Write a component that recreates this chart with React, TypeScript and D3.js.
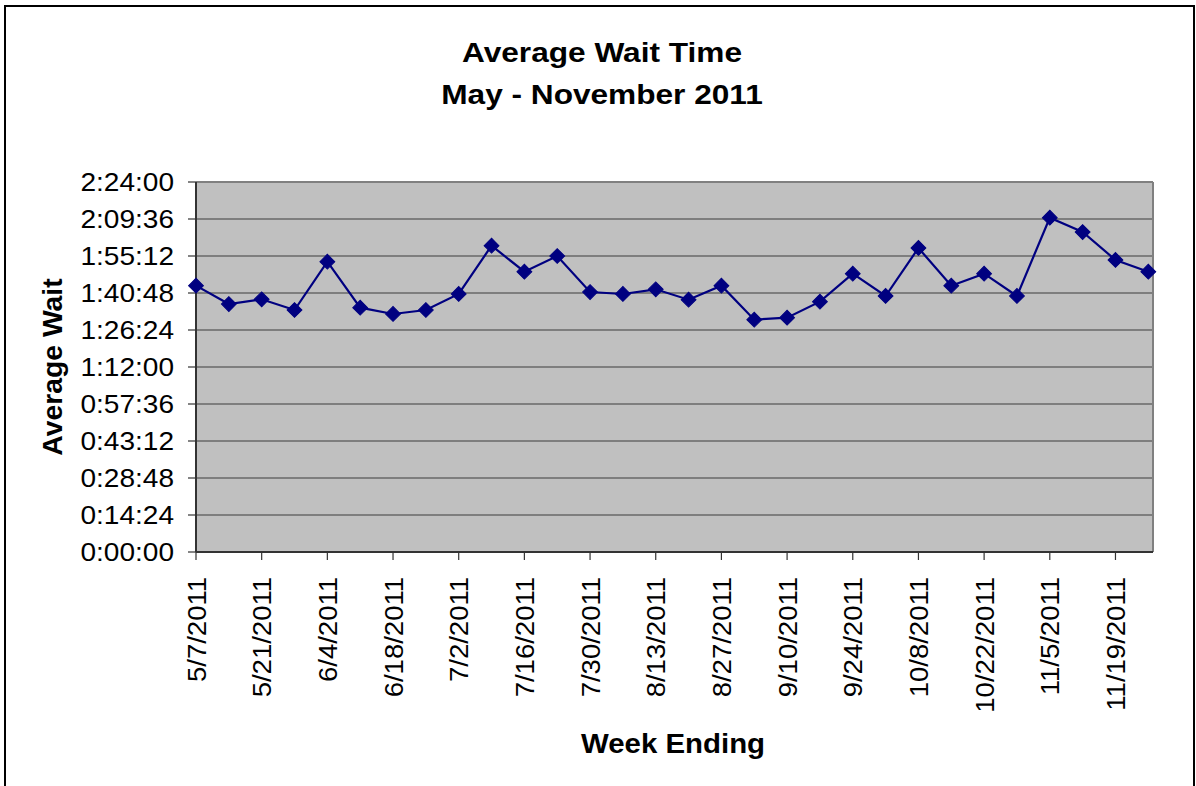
import React from "react";
import * as d3 from "d3";

const weekEnding = [
  "2011-05-07", "2011-05-14", "2011-05-21", "2011-05-28", "2011-06-04", "2011-06-11",
  "2011-06-18", "2011-06-25", "2011-07-02", "2011-07-09", "2011-07-16", "2011-07-23",
  "2011-07-30", "2011-08-06", "2011-08-13", "2011-08-20", "2011-08-27", "2011-09-03",
  "2011-09-10", "2011-09-17", "2011-09-24", "2011-10-01", "2011-10-08", "2011-10-15",
  "2011-10-22", "2011-10-29", "2011-11-05", "2011-11-12", "2011-11-19", "2011-11-26",
];

const averageWait = [
  "1:43:40", "1:36:31", "1:38:21", "1:34:11", "1:52:59", "1:35:05",
  "1:32:38", "1:34:11", "1:40:25", "1:59:13", "1:49:05", "1:55:12",
  "1:41:11", "1:40:25", "1:42:14", "1:38:12", "1:43:39", "1:30:25",
  "1:31:11", "1:37:25", "1:48:19", "1:39:38", "1:58:19", "1:43:39",
  "1:48:19", "1:39:38", "2:10:06", "2:04:32", "1:53:39", "1:49:05",
];

const yTickLabels = [
  "0:00:00", "0:14:24", "0:28:48", "0:43:12", "0:57:36", "1:12:00",
  "1:26:24", "1:40:48", "1:55:12", "2:09:36", "2:24:00",
];

const xTickLabels = [
  "5/7/2011", "5/21/2011", "6/4/2011", "6/18/2011", "7/2/2011", "7/16/2011",
  "7/30/2011", "8/13/2011", "8/27/2011", "9/10/2011", "9/24/2011", "10/8/2011",
  "10/22/2011", "11/5/2011", "11/19/2011",
];

const titleLines = ["Average Wait Time", "May - November 2011"];
const yAxisTitle = "Average Wait";
const xAxisTitle = "Week Ending";

const toSec = (s: string) => {
  const [h, m, sec] = s.split(":").map(Number);
  return h * 3600 + m * 60 + sec;
};
const parseUS = (s: string) => {
  const [mo, da, yr] = s.split("/").map(Number);
  return new Date(Date.UTC(yr, mo - 1, da));
};

const FONT = "'Liberation Sans', Arial, Helvetica, sans-serif";

export default function App() {
  const W = 1196;
  const H = 786;
  const left = 196, right = 1153, top = 182, bottom = 552;

  const dates = weekEnding.map((d) => new Date(d + "T00:00:00Z"));
  const values = averageWait.map(toSec);
  const yTicks = yTickLabels.map(toSec);
  const xTicks = xTickLabels.map(parseUS);

  const x = d3
    .scaleUtc()
    .domain([dates[0], d3.utcDay.offset(dates[dates.length - 1], 1)])
    .range([left, right]);
  const y = d3
    .scaleLinear()
    .domain([0, yTicks[yTicks.length - 1]])
    .range([bottom, top]);

  const data = dates.map((d, i) => ({ d, v: values[i] }));
  const line = d3
    .line<{ d: Date; v: number }>()
    .x((p) => x(p.d))
    .y((p) => y(p.v))(data) as string;
  const diamond = d3.symbol().type(d3.symbolSquare).size(110)() as string;

  return (
    <svg
      width={W}
      height={H}
      style={{ position: "absolute", left: 0, top: 0, background: "#fff" }}
    >
      <rect x={0} y={0} width={W} height={H} fill="#fff" />
      <rect x={5} y={6} width={1189} height={800} fill="#fff" stroke="#000" strokeWidth={2} />

      {/* title */}
      {titleLines.map((t, i) => (
        <text
          key={t}
          transform={`translate(602,${62 + i * 42}) scale(1.15,1)`}
          textAnchor="middle"
          fontFamily={FONT}
          fontWeight="bold"
          fontSize={27.5}
          fill="#000"
        >
          {t}
        </text>
      ))}

      {/* plot area */}
      <rect x={left} y={top} width={right - left} height={bottom - top} fill="#c0c0c0" />
      {yTicks.slice(1, -1).map((t) => (
        <line key={t} x1={left} x2={right} y1={y(t)} y2={y(t)} stroke="#3c3c3c" strokeWidth={1.2} />
      ))}
      <line x1={left} x2={right} y1={top} y2={top} stroke="#808080" strokeWidth={2} />
      <line x1={right} x2={right} y1={top} y2={bottom} stroke="#808080" strokeWidth={2} />

      {/* y axis */}
      <line x1={left} x2={left} y1={top} y2={bottom} stroke="#333" strokeWidth={2} />
      {yTicks.map((t, i) => (
        <g key={t}>
          <line x1={left - 8} x2={left} y1={y(t)} y2={y(t)} stroke="#333" strokeWidth={1.2} />
          <text
            transform={`translate(174,${y(t) + 9}) scale(1.1,1)`}
            textAnchor="end"
            fontFamily={FONT}
            fontSize={25.5}
            fill="#000"
          >
            {yTickLabels[i]}
          </text>
        </g>
      ))}

      {/* x axis */}
      <line x1={left} x2={right} y1={bottom} y2={bottom} stroke="#333" strokeWidth={2} />
      {xTicks.map((t, i) => (
        <g key={i}>
          <line x1={x(t)} x2={x(t)} y1={bottom} y2={bottom + 8} stroke="#333" strokeWidth={1.2} />
          <text
            transform={`translate(${x(t) + 9.5},577) rotate(-90) scale(1.08,1)`}
            textAnchor="end"
            fontFamily={FONT}
            fontSize={25.5}
            fill="#000"
          >
            {xTickLabels[i]}
          </text>
        </g>
      ))}

      {/* series */}
      <path d={line} fill="none" stroke="#000080" strokeWidth={2.2} />
      {data.map((p, i) => (
        <path
          key={i}
          d={diamond}
          transform={`translate(${x(p.d)},${y(p.v)}) rotate(45)`}
          fill="#000080"
          stroke="#000080"
          strokeWidth={1}
        />
      ))}

      {/* axis titles */}
      <text
        transform="translate(62,367) rotate(-90) scale(1.03,1)"
        textAnchor="middle"
        fontFamily={FONT}
        fontWeight="bold"
        fontSize={27.5}
        fill="#000"
      >
        {yAxisTitle}
      </text>
      <text
        transform="translate(673,753) scale(1.07,1)"
        textAnchor="middle"
        fontFamily={FONT}
        fontWeight="bold"
        fontSize={27.5}
        fill="#000"
      >
        {xAxisTitle}
      </text>
    </svg>
  );
}
